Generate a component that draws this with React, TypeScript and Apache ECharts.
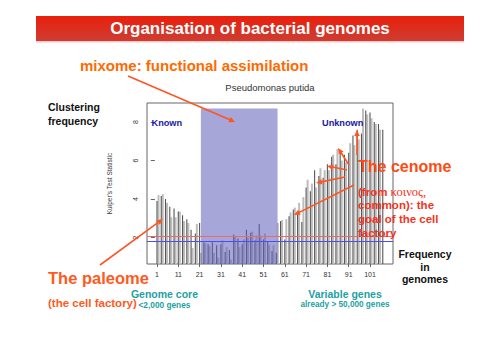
import React, { useEffect, useRef } from "react";
import * as echarts from "echarts";

// Kuiper's test statistic per "frequency in genomes" (1..107)
const kuiper = [
  3.9, 4.2, 4.15, 4.25, 4.0, 3.8, 3.6, 3.05, 3.5, 3.05,
  3.35, 3.35, 3.15, 2.85, 2.95, 2.75, 2.4, 1.45, 2.2, 2.7,
  2.75, 1.2, 1.75, 1.7, 1.65, 1.55, 1.75, 1.2, 1.6, 0.95,
  1.65, 1.85, 1.25, 1.5, 1.35, 0.85, 2.15, 2.05, 1.95, 1.5,
  1.65, 1.9, 2.4, 2.0, 2.25, 2.3, 1.85, 2.1, 2.7, 2.1,
  1.9, 2.2, 1.8, 1.6, 1.3, 1.6, 1.2, 2.75, 2.85, 2.9,
  1.9, 2.95, 3.1, 3.3, 3.45, 3.55, 3.2, 3.8, 2.8, 4.1,
  4.6, 5.0, 4.4, 4.8, 5.5, 4.6, 5.2, 5.6, 5.1, 5.5,
  5.8, 5.5, 6.2, 6.3, 5.8, 6.6, 6.5, 6.0, 6.3, 5.9,
  6.4, 6.9, 7.3, 6.8, 7.6, 7.1, 7.4, 8.7, 8.6, 8.4,
  8.5, 8.2, 8.0, 7.9, 7.9, 7.6, 7.6,
];
const xTicks = [1, 11, 21, 31, 41, 51, 61, 71, 81, 91, 101];
const yTicks = [2, 4, 6, 8];
const thresholdValues = [2.04, 1.78];
const thresholdColors = ["#e86a6a", "#4c4cff"];
const coreRange = [21.6, 57.6];
const coreRangeY = [8.7, -0.2];

const SANS = '"Liberation Sans", Arial, sans-serif';
const SERIF = '"Liberation Serif", "DejaVu Serif", serif';

function txt(text: string, x: number, y: number, size: number, fill: string, opts: any = {}) {
  return {
    type: "text",
    z: 20,
    style: {
      text,
      x,
      y,
      fill,
      fontSize: size,
      fontWeight: opts.weight ?? "bold",
      fontFamily: opts.family ?? SANS,
      textAlign: opts.align ?? "left",
      textVerticalAlign: "middle",
      rich: opts.rich,
    },
  };
}

function arrow(x1: number, y1: number, x2: number, y2: number, color: string) {
  const dx = x2 - x1;
  const dy = y2 - y1;
  const len = Math.sqrt(dx * dx + dy * dy);
  const ux = dx / len;
  const uy = dy / len;
  const L = 6;
  const W = 2.8;
  const bx = x2 - ux * L;
  const by = y2 - uy * L;
  return [
    {
      type: "line",
      z: 20,
      shape: { x1, y1, x2: x2 - ux * L * 0.7, y2: y2 - uy * L * 0.7 },
      style: { stroke: color, lineWidth: 1.6 },
    },
    {
      type: "polygon",
      z: 20,
      shape: {
        points: [
          [x2, y2],
          [bx - uy * W, by + ux * W],
          [bx + uy * W, by - ux * W],
        ],
      },
      style: { fill: color },
    },
  ];
}

export default function App() {
  const ref = useRef<HTMLDivElement>(null);

  useEffect(() => {
    if (!ref.current) return;
    const chart = echarts.init(ref.current, null, { renderer: "svg" });

    const lightData: any[] = [];
    const darkData: any[] = [];
    kuiper.forEach((v, i) => {
      const x = i + 1;
      if (x % 2 === 1) darkData.push([x, v]);
      else lightData.push([x, v]);
    });

    const arrowColor = "#ff5522";
    const graphics: any[] = [
      {
        type: "rect",
        z: 10,
        shape: { x: 36, y: 16, width: 428, height: 25 },
        style: {
          fill: new echarts.graphic.LinearGradient(0, 0, 0, 1, [
            { offset: 0, color: "#ea1f0c" },
            { offset: 1, color: "#cd3d32" },
          ]),
        },
      },
      {
        type: "rect",
        z: 10,
        shape: { x: 36, y: 41, width: 428, height: 1.5 },
        style: { fill: "#f6c9c4" },
      },
      txt("Organisation of bacterial genomes", 250, 28.5, 17, "#ffffff", { align: "center" }),
      txt("mixome: functional assimilation", 80, 65, 15, "#ff6a00"),
      txt("Pseudomonas putida", 270, 87.5, 9.5, "#333333", { weight: "normal", align: "center" }),
      txt("Clustering", 48, 107, 10.5, "#111111"),
      txt("frequency", 48, 120.5, 10.5, "#111111"),
      txt("Known", 151.5, 123, 9.2, "#1a1aa6"),
      txt("Unknown", 322, 123, 9.2, "#1a1aa6"),
      txt("The cenome", 358, 166.5, 16, "#ff4a12"),
      txt("{a|(from }{b|κοινος,}", 358, 191.5, 11.5, "#f53420", {
        rich: {
          a: { fontSize: 11.5, fontWeight: "bold", fontFamily: SANS, fill: "#f53420" },
          b: { fontSize: 12.5, fontWeight: "normal", fontFamily: SERIF, fill: "#f53420" },
        },
      }),
      txt("common): the", 358, 205, 11.5, "#f53420"),
      txt("goal of the cell", 358, 219, 11.5, "#f53420"),
      txt("factory", 358, 233, 11.5, "#f53420"),
      txt("Frequency", 425, 253.5, 10.5, "#111111", { align: "center" }),
      txt("in", 425, 266.5, 10.5, "#111111", { align: "center" }),
      txt("genomes", 425, 278.5, 10.5, "#111111", { align: "center" }),
      txt("The paleome", 48, 278, 16.5, "#ff5a1e"),
      txt("(the cell factory)", 48, 303, 11.5, "#ff5a1e"),
      txt("Genome core", 164.5, 293.5, 10.5, "#1e9fa3", { align: "center" }),
      txt("<2,000 genes", 138.5, 304.5, 8.3, "#1e9fa3"),
      txt("Variable genes", 345, 293.5, 10.5, "#1e9fa3", { align: "center" }),
      txt("already > 50,000 genes", 345, 304.5, 8.2, "#1e9fa3", { align: "center" }),
      ...arrow(128, 76, 235, 122, arrowColor),
      ...arrow(100, 265, 163, 219, arrowColor),
      ...arrow(357, 155, 357, 130, arrowColor),
      ...arrow(349, 165, 338, 148, arrowColor),
      ...arrow(347, 170, 327, 166, arrowColor),
      ...arrow(345, 177, 316, 183, arrowColor),
      ...arrow(354, 185, 294, 215, arrowColor),
    ];

    const xAxisBase = {
      type: "value",
      min: -3.69,
      max: 111.8,
      splitLine: { show: false },
      axisLine: { show: false },
    };

    chart.setOption({
      animation: false,
      backgroundColor: "#ffffff",
      grid: {
        left: 147,
        right: 107,
        top: 103,
        bottom: 90,
        show: true,
        borderColor: "#666666",
        borderWidth: 1,
        backgroundColor: "transparent",
      },
      xAxis: [
        {
          ...xAxisBase,
          axisTick: { show: true, length: 3, lineStyle: { color: "#666" }, customValues: xTicks },
          axisLabel: {
            show: true,
            customValues: xTicks,
            fontSize: 7,
            color: "#333",
            fontFamily: SANS,
            margin: 7,
          },
        },
        {
          ...xAxisBase,
          show: false,
        },
      ],
      yAxis: {
        type: "value",
        min: 0.62,
        max: 8.99,
        splitLine: { show: false },
        axisLine: { show: false },
        axisTick: { show: true, length: 4, lineStyle: { color: "#666" }, customValues: yTicks },
        axisLabel: {
          customValues: yTicks,
          rotate: 90,
          fontSize: 7,
          color: "#333",
          fontFamily: SANS,
          margin: 8,
        },
        name: "Kuiper's Test Statistic",
        nameLocation: "middle",
        nameGap: 34,
        nameTextStyle: { fontSize: 6.5, color: "#333", fontFamily: SANS },
      },
      series: [
        {
          type: "bar",
          xAxisIndex: 0,
          data: lightData,
          barWidth: 2,
          itemStyle: { color: "#bdbdbd" },
          z: 2,
        },
        {
          type: "bar",
          xAxisIndex: 1,
          data: darkData,
          barWidth: 1.1,
          itemStyle: { color: "#565656" },
          z: 2,
        },
        {
          type: "bar",
          xAxisIndex: 0,
          data: [],
          clip: false,
          z: 4,
          markArea: {
            silent: true,
            z: 4,
            itemStyle: { color: "rgba(96, 96, 186, 0.56)" },
            data: [
              [
                { xAxis: coreRange[0], yAxis: coreRangeY[0] },
                { xAxis: coreRange[1], yAxis: coreRangeY[1] },
              ],
            ],
          },
          markLine: {
            silent: true,
            symbol: ["none", "none"],
            label: { show: false },
            z: 5,
            data: thresholdValues.map((v, i) => ({
              yAxis: v,
              lineStyle: { color: thresholdColors[i], width: 1, type: "solid", opacity: 1 },
            })),
          },
        },
      ],
      graphic: graphics,
    });

    return () => chart.dispose();
  }, []);

  return (
    <div
      ref={ref}
      style={{ position: "fixed", left: 0, top: 0, width: 500, height: 354, background: "#fff" }}
    />
  );
}
